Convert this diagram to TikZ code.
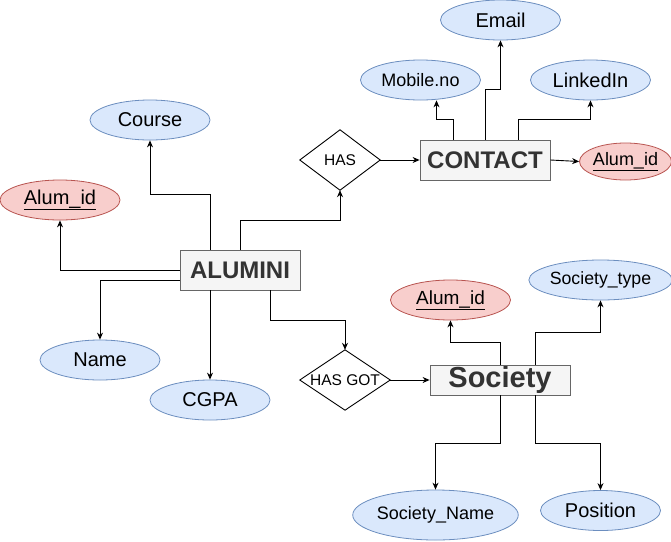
\documentclass[tikz,border=0pt]{standalone}
\usepackage{fontspec}
\setmainfont{Liberation Sans}
\usetikzlibrary{arrows.meta,shapes.geometric}
\definecolor{blueF}{HTML}{DAE8FC}
\definecolor{blueS}{HTML}{6C8EBF}
\definecolor{redF}{HTML}{F8CECC}
\definecolor{redS}{HTML}{B85450}
\definecolor{entF}{HTML}{F5F5F5}
\definecolor{entS}{HTML}{666666}
\definecolor{entT}{HTML}{333333}
\tikzset{
  attr/.style={ellipse, draw=blueS, fill=blueF, line width=0.8pt, inner sep=0pt, minimum width=120pt, minimum height=40pt, font=\fontsize{20}{22}\selectfont},
  keyattr/.style={attr, draw=redS, fill=redF},
  entity/.style={rectangle, draw=entS, fill=entF, line width=0.8pt, inner sep=0pt, text=entT, font=\fontsize{24}{26}\selectfont\bfseries},
  relbox/.style={rectangle, inner sep=0pt, font=\fontsize{15.5}{17}\selectfont},
  arr/.style={draw=black, line width=0.9pt, -{Stealth[length=7pt,width=6pt]}},
  plain/.style={draw=black, line width=0.9pt}
}
\begin{document}
\begin{tikzpicture}[x=1pt,y=-1pt]
\useasboundingbox (0,0) rectangle (671,541);
% entities
\node[entity, minimum width=120pt, minimum height=40pt] (alumni) at (240,270) {ALUMINI};
\node[entity, minimum width=130pt, minimum height=40pt] (contact) at (485,160) {CONTACT};
\node[entity, minimum width=140pt, minimum height=30pt, font=\fontsize{29}{30}\selectfont\bfseries] (society) at (500,380) {Society};
% relationships
\node[relbox, minimum width=80pt, minimum height=60pt] (has) at (340,160) {HAS};
\draw[plain] (has.north) -- (has.east) -- (has.south) -- (has.west) -- cycle;
\node[relbox, minimum width=90pt, minimum height=60pt] (hasgot) at (345,380) {HAS GOT};
\draw[plain] (hasgot.north) -- (hasgot.east) -- (hasgot.south) -- (hasgot.west) -- cycle;
% attributes of ALUMINI
\node[attr] (course) at (150,120) {Course};
\node[keyattr] (alumL) at (60,200) {\underline{Alum\_id}};
\node[attr] (name) at (100,360) {Name};
\node[attr] (cgpa) at (210,400) {CGPA};
% attributes of CONTACT
\node[attr, font=\fontsize{18}{20}\selectfont] (mobile) at (420.5,80) {Mobile.no};
\node[attr] (email) at (500.5,20) {Email};
\node[attr] (linkedin) at (590.5,80) {LinkedIn};
\node[keyattr, minimum width=90pt, minimum height=37pt, font=\fontsize{18}{20}\selectfont] (alumC) at (625.5,161.5) {\underline{Alum\_id}};
% attributes of Society
\node[keyattr, font=\fontsize{19}{21}\selectfont] (alumS) at (450.5,300) {\underline{Alum\_id}};
\node[attr, font=\fontsize{17.7}{20}\selectfont] (stype) at (600.5,280) {Society\_type};
\node[attr, minimum width=130pt, minimum height=50pt, font=\fontsize{18}{20}\selectfont] (sname) at (435.5,515) {Society\_Name};
\node[attr] (position) at (600.5,510.5) {Position};
% connectors from ALUMINI
\draw[arr] ([xshift=-30pt]alumni.north) -- ++(0,-55) -| (course.south);
\draw[arr] (alumni.west) -| (alumL.south);
\draw[arr] ([yshift=-10pt]alumni.west) -| (name.north);
\draw[arr] ([xshift=-30pt]alumni.south) -- (cgpa.north);
\draw[arr] (alumni.north) -- ++(0,-29) -| (has.south);
\draw[arr] ([xshift=30pt]alumni.south) -- ++(0,30) -| (hasgot.north);
% connectors of CONTACT
\draw[arr] (has.east) -- (contact.west);
\draw[arr] (contact.east) -- (alumC.west);
\draw[arr] ([xshift=-32pt]contact.north) -- ++(0,-20) -| ([xshift=16pt]mobile.south);
\draw[arr] (contact.north) -- ++(0,-50) -| (email.south);
\draw[arr] ([xshift=33pt]contact.north) -- ++(0,-20) -| (linkedin.south);
% connectors of Society
\draw[arr] (hasgot.east) -- (society.west);
\draw[arr] (society.north) -- ++(0,-22) -| (alumS.south);
\draw[arr] ([xshift=35pt]society.north) -- ++(0,-32) -| (stype.south);
\draw[arr] (society.south) -- ++(0,48) -| (sname.north);
\draw[arr] ([xshift=35pt]society.south) -- ++(0,48) -| (position.north);
\end{tikzpicture}
\end{document}
